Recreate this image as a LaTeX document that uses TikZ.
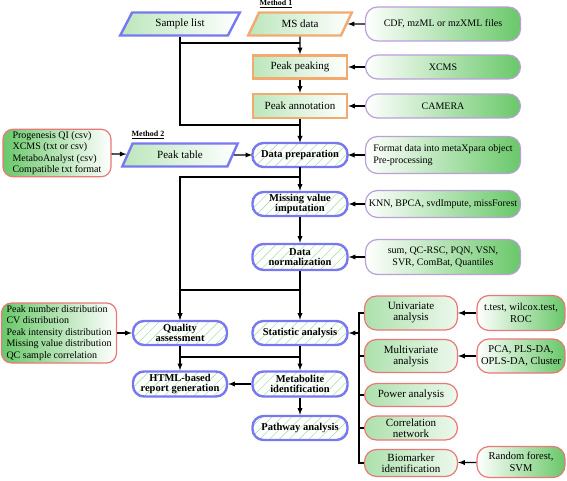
\documentclass[tikz,border=0pt]{standalone}
\usepackage{fontspec}
\setmainfont{Liberation Serif}
\usetikzlibrary{shapes.geometric}
\usetikzlibrary{patterns.meta}
\usetikzlibrary{positioning}
\definecolor{leaf}{RGB}{105,200,105}
\definecolor{pillblue}{RGB}{120,120,240}
\definecolor{stepor}{RGB}{242,170,110}
\definecolor{toolpurple}{RGB}{185,160,215}
\definecolor{srcred}{RGB}{235,120,120}
\tikzset{
  Pfeil/.style={line width=1.3pt,->}, % connectors
  Linie/.style={line width=1.3pt},    % plain lines
  Para/.style={trapezium, trapezium left angle=62, trapezium right angle=118,
    trapezium stretches=true, draw=#1, line width=2.4pt,
    left color=leaf!45!white, right color=white, minimum height=23pt, inner sep=1pt,
    font=\rmfamily\fontsize{11}{12}\selectfont},
  Schritt/.style={rectangle, draw=stepor, line width=2.4pt,
    left color=leaf!45!white, right color=white,
    minimum width=94pt, minimum height=23pt, inner sep=1pt,
    font=\rmfamily\fontsize{11}{12}\selectfont},
  Pill/.style={rectangle, rounded corners=11pt, draw=pillblue, line width=2.4pt,
    pattern={Lines[angle=45,distance=7pt,line width=0.6pt]}, pattern color=leaf!55!white,
    font=\rmfamily\fontsize{10.5}{10.5}\selectfont\bfseries, align=center,
    minimum width=95pt, minimum height=24pt, inner sep=1pt},
  Werkzeug/.style={rectangle, rounded corners=12pt, draw=toolpurple, line width=1.2pt,
    left color=white, right color=leaf, align=center,
    minimum width=155pt, minimum height=24pt, inner sep=2pt},
  Quelle/.style={rectangle, rounded corners=10pt, draw=srcred, line width=1.2pt,
    left color=leaf, right color=white, align=left, inner sep=2pt},
  Analyse/.style={rectangle, rounded corners=12pt, draw=srcred, line width=1.2pt,
    left color=leaf!55!white, right color=leaf!12!white, align=center,
    minimum width=93pt, minimum height=23pt, inner sep=1pt,
    font=\rmfamily\fontsize{11}{11}\selectfont},
  Verfahren/.style={rectangle, rounded corners=12pt, draw=srcred, line width=1.2pt,
    left color=white, right color=leaf, align=center,
    minimum width=88pt, minimum height=33pt, inner sep=1pt,
    font=\rmfamily\fontsize{10.5}{11.5}\selectfont},
  Marke/.style={font=\rmfamily\fontsize{8}{9}\selectfont\bfseries, inner sep=0pt}
}
\begin{document}
\begin{tikzpicture}[x=1pt,y=-1pt,
font=\rmfamily\fontsize{10}{11.5}\selectfont,
>=latex % arrow tips
]
\useasboundingbox (0,0) rectangle (567,481);

%Eingaben
\node[Para=pillblue, minimum width=120pt] (SL) at (180,24) {Sample list};
\node[Para=stepor, minimum width=104pt] (MS) at (300,24) {MS data};
\node[Marke] (M1) at (276,4) {\underline{Method 1}};
\node[Marke] (M2) at (148,135) {\underline{Method 2}};
\node[Para=pillblue, minimum width=116pt] (PT) at (180,155) {Peak table};
\node[Quelle, minimum width=108pt, minimum height=47pt] (SRC) at (57,153)
  {Progenesis QI (csv)\\XCMS (txt or csv)\\MetaboAnalyst (csv)\\Compatible txt format};

%Method 1
\node[Schritt] (PP) at (300,67) {Peak peaking};
\node[Schritt, minimum height=24pt] (PA) at (300,106) {Peak annotation};
\node[Werkzeug, minimum height=34pt] (CDF) at (443,24) {CDF, mzML or mzXML files};
\node[Werkzeug] (XC) at (443,67) {XCMS};
\node[Werkzeug] (CA) at (443,106) {CAMERA};

%Hauptschritte
\node[Pill] (DP) at (300,155) {Data preparation};
\node[Pill] (MV) at (300,204) {Missing value\\imputation};
\node[Pill, minimum height=26pt] (DN) at (300,257) {Data\\normalization};
\node[Pill] (SA) at (300,333) {Statistic analysis};
\node[Pill, minimum height=25pt] (MI) at (300,384) {Metabolite\\identification};
\node[Pill] (PW) at (300,428) {Pathway analysis};
\node[Pill, minimum width=94pt] (QA) at (180,333) {Quality\\assessment};
\node[Pill, minimum width=94pt, minimum height=25pt] (HT) at (180,384) {HTML-based\\report generation};

%Werkzeuge
\node[Werkzeug, minimum height=37pt, align=left] (FD) at (443,155)
  {Format data into metaXpara object\\Pre-processing};
\node[Werkzeug, minimum height=27pt] (KN) at (443,204) {KNN, BPCA, svdImpute, missForest};
\node[Werkzeug, minimum height=35pt] (NO) at (443,257) {sum, QC-RSC, PQN, VSN,\\SVR, ComBat, Quantiles};
\node[Quelle, minimum width=115pt, minimum height=60pt] (QC) at (59,333)
  {Peak number distribution\\CV distribution\\Peak intensity distribution\\Missing value distribution\\QC sample correlation};

%Statistik
\node[Analyse, minimum height=34pt] (UA) at (411,313) {Univariate\\analysis};
\node[Analyse, minimum height=33pt] (MA) at (411,356) {Multivariate\\analysis};
\node[Analyse] (PO) at (411,395) {Power analysis};
\node[Analyse, minimum height=24pt] (CN) at (411,428) {Correlation\\network};
\node[Analyse, minimum height=27pt] (BI) at (411,463) {Biomarker\\identification};
\node[Verfahren, minimum height=35pt] (TT) at (521,313) {t.test, wilcox.test,\\ROC};
\node[Verfahren, minimum height=34pt] (PC) at (521,356) {PCA, PLS-DA,\\OPLS-DA, Cluster};
\node[Verfahren, minimum height=31pt] (RF) at (521,462) {Random forest,\\SVM};

%Knoten der Leitungen
\coordinate (ja) at (300,43);
\coordinate (jb) at (300,125);
\coordinate (jc) at (300,177);
\coordinate (jd) at (300,290);
\coordinate (je) at (300,357);
\coordinate (bus) at (359,333);

%Leiterbahnen
\draw[Pfeil] (MS) -- (PP);
\draw[Pfeil] (PP) -- (PA);
\draw[Pfeil] (PA) -- (DP);
\draw[Linie] (SL.south) |- (ja);
\draw[Linie] (SL.south) |- (jb);
\draw[Pfeil] (SRC) -- (PT);
\draw[Pfeil] (PT) -- (DP);
\draw[Pfeil] (DP) -- (MV);
\draw[Pfeil] (MV) -- (DN);
\draw[Pfeil] (DN) -- (SA);
\draw[Pfeil] (jc) -| (QA.north);
\draw[Pfeil] (jd) -| (QA.north);
\draw[Pfeil] (QC) -- (QA);
\draw[Pfeil] (QA) -- (HT);
\draw[Linie] (QA.south) |- (je);
\draw[Pfeil] (SA) -- (MI);
\draw[Pfeil] (MI) -- (HT);
\draw[Pfeil] (MI) -- (PW);

%Pfeile der Werkzeuge
\draw[Pfeil] (CDF) -- (MS);
\draw[Pfeil] (XC) -- (PP);
\draw[Pfeil] (CA) -- (PA);
\draw[Pfeil] (FD) -- (DP);
\draw[Pfeil] (KN) -- (MV);
\draw[Pfeil] (NO) -- (DN);
\draw[Pfeil] (TT) -- (UA);
\draw[Pfeil] (PC) -- (MA);
\draw[Pfeil] (RF) -- (BI);

%Sammelschiene
\foreach \n in {UA,MA,PO,CN,BI}
  \draw[Linie] (\n.west) -| (bus);
\draw[Pfeil] (bus) -- (SA);

\end{tikzpicture}
\end{document}
